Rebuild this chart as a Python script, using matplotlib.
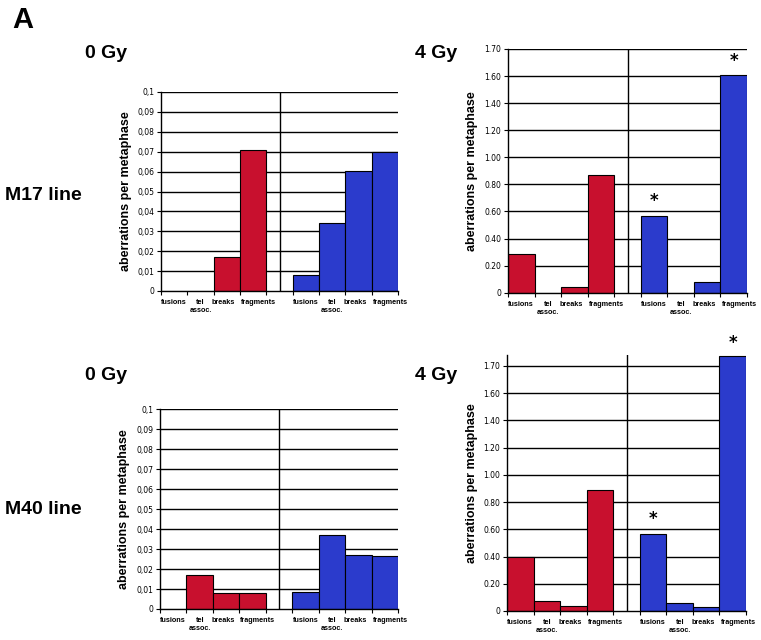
import numpy as np
import matplotlib
matplotlib.use('Agg')
import matplotlib.pyplot as plt

# categories and values
categories = ['fusions', 'tel\nassoc.', 'breaks', 'fragments']

m17_0gy_red = [0.0, 0.0, 0.0171, 0.0710]
m17_0gy_blue = [0.0082, 0.0342, 0.0601, 0.0698]
m17_4gy_red = [0.287, 0.0, 0.044, 0.872]
m17_4gy_blue = [0.568, 0.0, 0.079, 1.61]

m40_0gy_red = [0.0, 0.0169, 0.0082, 0.0082]
m40_0gy_blue = [0.0087, 0.0371, 0.0269, 0.0267]
m40_4gy_red = [0.400, 0.071, 0.039, 0.885]
m40_4gy_blue = [0.566, 0.059, 0.027, 1.87]

low_ticks = [0, 0.01, 0.02, 0.03, 0.04, 0.05, 0.06, 0.07, 0.08, 0.09, 0.1]
low_labels = ['0', '0,01', '0,02', '0,03', '0,04', '0,05', '0,06', '0,07', '0,08', '0,09', '0,1']
high_ticks = [0, 0.2, 0.4, 0.6, 0.8, 1.0, 1.2, 1.4, 1.6, 1.8]
high_labels = ['0', '0.20', '0.40', '0.60', '0.80', '1.00', '1.20', '1.40', '1.60', '1.70']

# significance stars: (bar index in blue group, y value)
m17_stars = [(0, 0.674), (3, 1.71)]
m40_stars = [(0, 0.674), (3, 1.97)]

RED = '#c8102e'
BLUE = '#2b3bcc'

# small nudges so the category labels don't run into each other
label_shift = [0.0, 0.0, -0.12, 0.2]

W, H = 761, 640
fig = plt.figure(figsize=(W / 100, H / 100), dpi=100)


def px_axes(left, right, top, bottom):
    return fig.add_axes([left / W, 1 - bottom / H, (right - left) / W, (bottom - top) / H])


def draw_panel(ax, red, blue, ticks, labels, ymax, stars=None):
    red_x = np.arange(4) + 0.5
    blue_x = np.arange(4) + 5.5
    for y in ticks[1:]:
        ax.axhline(y, color='black', lw=1.0, zorder=1)
    ax.bar(red_x, red, width=1.0, color=RED, edgecolor='black', lw=0.8, zorder=2)
    ax.bar(blue_x, blue, width=1.0, color=BLUE, edgecolor='black', lw=0.8, zorder=2)
    ax.axvline(4.5, color='black', lw=1.0, zorder=3)
    ax.set_xlim(0, 9)
    ax.set_ylim(0, ymax)
    ax.set_yticks(ticks)
    ax.set_yticklabels(labels, fontsize=5.5, family='DejaVu Sans')
    ax.tick_params(axis='y', length=3, width=0.8, pad=2)
    ax.set_xticks([0, 1, 2, 3, 4, 5, 6, 7, 8, 9])
    ax.set_xticklabels([])
    ax.tick_params(axis='x', length=3, width=0.8)
    for xs in (red_x, blue_x):
        for x, lab, dx in zip(xs, categories, label_shift):
            ax.annotate(lab, (x + dx, 0), xycoords=('data', 'axes fraction'),
                        xytext=(0, -6), textcoords='offset points',
                        ha='center', va='top', fontsize=5.2, fontweight='bold',
                        family='Liberation Sans', linespacing=1.1)
    for s in ['top', 'right']:
        ax.spines[s].set_visible(False)
    for s in ['left', 'bottom']:
        ax.spines[s].set_linewidth(1.0)
    ax.set_ylabel('aberrations per metaphase', fontsize=9, fontweight='bold',
                  family='Liberation Sans', labelpad=4)
    if stars:
        for i, y in stars:
            ax.text(blue_x[i], y, '*', ha='center', va='center', fontsize=12,
                    fontweight='bold', clip_on=False)


ax1 = px_axes(161, 398, 92, 291)
draw_panel(ax1, m17_0gy_red, m17_0gy_blue, low_ticks, low_labels, 0.1)
ax2 = px_axes(508, 747, 49, 292.7)
draw_panel(ax2, m17_4gy_red, m17_4gy_blue, high_ticks, high_labels, 1.8, m17_stars)
ax3 = px_axes(160, 398, 409, 609)
draw_panel(ax3, m40_0gy_red, m40_0gy_blue, low_ticks, low_labels, 0.1)
ax4 = px_axes(507, 746, 355, 611)
draw_panel(ax4, m40_4gy_red, m40_4gy_blue, high_ticks, high_labels, 1.88, m40_stars)

# headings
bold = dict(family='Liberation Sans', fontweight='bold', color='black')
fig.text(12 / W, 1 - 20 / H, 'A', fontsize=21, va='center', ha='left', **bold)
fig.text(85 / W, 1 - 53 / H, '0 Gy', fontsize=14, va='center', ha='left', **bold)
fig.text(415 / W, 1 - 53 / H, '4 Gy', fontsize=14, va='center', ha='left', **bold)
fig.text(85 / W, 1 - 375 / H, '0 Gy', fontsize=14, va='center', ha='left', **bold)
fig.text(415 / W, 1 - 375 / H, '4 Gy', fontsize=14, va='center', ha='left', **bold)
fig.text(5 / W, 1 - 195 / H, 'M17 line', fontsize=14, va='center', ha='left', **bold)
fig.text(5 / W, 1 - 510 / H, 'M40 line', fontsize=14, va='center', ha='left', **bold)

fig.savefig('out.png', dpi=100)
